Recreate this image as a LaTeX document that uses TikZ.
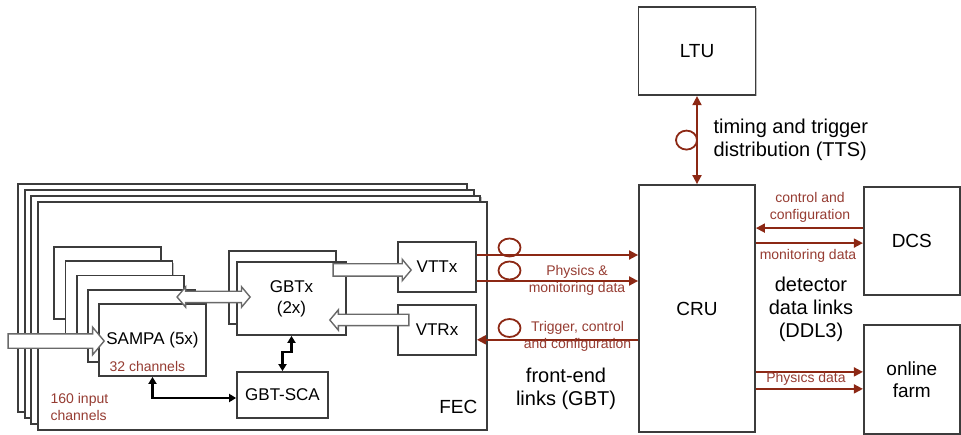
\documentclass[tikz,border=0pt]{standalone}
\usepackage{fontspec}
\setmainfont{Liberation Sans}
\usepackage{tikz}
\usetikzlibrary{arrows.meta, positioning, calc, shapes.arrows, shadows}
\definecolor{linkred}{RGB}{140,40,20}
\definecolor{labelred}{RGB}{150,60,50}
\definecolor{boxgray}{RGB}{60,60,60}
\definecolor{fatgray}{RGB}{105,105,105}

\begin{document}
\begin{tikzpicture}[
  x=1pt, y=1pt,
  box/.style={draw=boxgray, line width=1.8pt, fill=white, inner sep=0pt, align=center,
    drop shadow={shadow xshift=1.2pt, shadow yshift=-1.2pt, fill=black, opacity=0.25},
    font=\fontsize{19}{22}\selectfont},
  chipbox/.style={box, font=\fontsize{17}{21}\selectfont},
  link/.style={linkred, line width=1.8pt, -{Triangle[length=9pt, width=9pt]}},
  linkboth/.style={link, {Triangle[length=9pt, width=9pt]}-{Triangle[length=9pt, width=9pt]}},
  fiber/.style={linkred, line width=1.8pt},
  ctrl/.style={black, line width=2.2pt, {Triangle[length=7pt, width=8pt]}-{Triangle[length=7pt, width=8pt]}},
  fatbase/.style={draw=fatgray, line width=1.4pt, fill=white, inner xsep=0pt},
  fat/.style={fatbase, shape=single arrow, single arrow tip angle=100},
  fatboth/.style={fatbase, shape=double arrow, double arrow tip angle=100},
  smalllbl/.style={labelred, align=center, font=\fontsize{14}{17}\selectfont},
  biglbl/.style={align=center, font=\fontsize{20}{23}\selectfont},
]
  \useasboundingbox (0,0) rectangle (961,434);

  % front-end card stack
  \coordinate (feccen) at (262.5,118);
  \foreach \i in {3,2,1}
    \node[box, minimum width=449pt, minimum height=228pt] at ($(feccen)+(-6.7*\i,6*\i)$) {};
  \node[box, minimum width=449pt, minimum height=228pt] (fec) at (feccen) {};
  \node[font=\fontsize{19}{22}\selectfont, anchor=east] (feclbl) at ([xshift=-7pt, yshift=24pt]fec.south east) {FEC};
  \node[smalllbl, align=left, anchor=west] (inputs) at ([xshift=10pt, yshift=23.5pt]fec.south west) {160 input\\channels};

  % SAMPA stack
  \coordinate (sampacen) at (152.5,94);
  \foreach \i in {4,3,2,1}
    \node[chipbox, minimum width=107pt, minimum height=72pt] at ($(sampacen)+(-11.2*\i,14.2*\i)$) {};
  \node[chipbox, minimum width=107pt, minimum height=72pt] (sampa) at (sampacen) {SAMPA (5x)};
  \node[smalllbl, anchor=west] (chan) at ([xshift=8pt, yshift=10pt]sampa.south west) {32 channels};

  % GBTx pair
  \coordinate (gbtxcen) at (291.5,135.5);
  \node[chipbox, minimum width=107pt, minimum height=73pt] at ($(gbtxcen)+(-9,11)$) {};
  \node[chipbox, minimum width=109pt, minimum height=73pt] (gbtx) at (gbtxcen) {GBTx\\(2x)};

  \node[chipbox, minimum width=78pt, minimum height=50pt] (vttx) at (437,167) {VTTx};
  \node[chipbox, minimum width=78pt, minimum height=50pt, below=11pt of vttx] (vtrx) {VTRx};
  \node[chipbox, minimum width=91pt, minimum height=46pt] (sca) at (282.5,39) {GBT-SCA};

  % counting room side
  \node[box, minimum width=116pt, minimum height=247pt] (cru) at (697,125.5) {CRU};
  \node[box, minimum width=117pt, minimum height=88pt, above=88pt of cru] (ltu) {LTU};
  \node[box, minimum width=96pt, minimum height=108pt, anchor=north west] (dcs)
    at ([xshift=107pt, yshift=-2pt]cru.north east) {DCS};
  \node[box, minimum width=96pt, minimum height=109pt, below=28pt of dcs] (farm) {online\\farm};

  % wide data paths on the card
  \node[fat, minimum height=96pt, inner ysep=6.5pt, single arrow head extend=6.5pt, anchor=tip] (inarr)
    at ([xshift=7pt, yshift=-1pt]sampa.west) {};
  \node[fatboth, minimum height=73pt, inner ysep=5pt, double arrow head extend=4.5pt] (sgarr)
    at ([xshift=-22.5pt, yshift=1.5pt]gbtx.west) {};
  \node[fat, minimum height=78pt, inner ysep=5.5pt, single arrow head extend=4.5pt, anchor=tip] (txarr)
    at ([xshift=15pt, yshift=-3pt]vttx.west) {};
  \node[fat, minimum height=79pt, inner ysep=5pt, single arrow head extend=4.5pt, shape border rotate=180, anchor=tip] (rxarr)
    at ([xshift=-18pt, yshift=-21.5pt]gbtx.east) {};

  \draw[ctrl] (sampa.south) |- ([yshift=-3pt]sca.west);
  \draw[ctrl] (gbtx.south) -- ++(0,-16) -| (sca.north);

  % optical links
  \draw[link] ([yshift=12pt]vttx.east) -- ([yshift=12pt]vttx.east -| cru.west);
  \draw[link] ([yshift=-14pt]vttx.east) -- ([yshift=-14pt]vttx.east -| cru.west);
  \draw[link] ([yshift=-10pt]vtrx.east -| cru.west) -- ([yshift=-10pt]vtrx.east);
  \draw[fiber] (509.5,186.5) ellipse (11pt and 9pt);
  \draw[fiber] (509.5,163.5) ellipse (11pt and 9pt);
  \draw[fiber] (509.5,106) ellipse (11pt and 9pt);
  \node[smalllbl] (phys) at (577,154) {Physics \&\\monitoring data};
  \node[smalllbl] (trig) at (577.5,97.5) {Trigger, control\\and configuration};
  \node[biglbl] (fel) at (566,45.5) {front-end\\links (GBT)};

  \draw[linkboth] (ltu.south) -- (ltu.south |- cru.north);
  \draw[fiber] ($(ltu.south)!.5!(ltu.south |- cru.north)+(-10.5,0)$) ellipse (10.5pt and 9.5pt);
  \node[biglbl, align=left, anchor=west] (tts) at (710,294.5) {timing and trigger\\distribution (TTS)};

  \draw[link] ([yshift=-42pt]dcs.north west) -- ([yshift=-42pt]dcs.north west -| cru.east);
  \draw[link] ([yshift=-57pt]dcs.north west -| cru.east) -- ([yshift=-57pt]dcs.north west);
  \draw[link] ([yshift=-48pt]farm.north west -| cru.east) -- ([yshift=-48pt]farm.north west);
  \draw[link] ([yshift=-65pt]farm.north west -| cru.east) -- ([yshift=-65pt]farm.north west);
  \node[smalllbl] (cc) at (810,227) {control and\\configuration};
  \node[smalllbl] (mon) at (808,178) {monitoring data};
  \node[biglbl] (ddl) at (811,125) {detector\\data links\\(DDL3)};
  \node[smalllbl] (physd) at (806,55) {Physics data};
\end{tikzpicture}
\end{document}
